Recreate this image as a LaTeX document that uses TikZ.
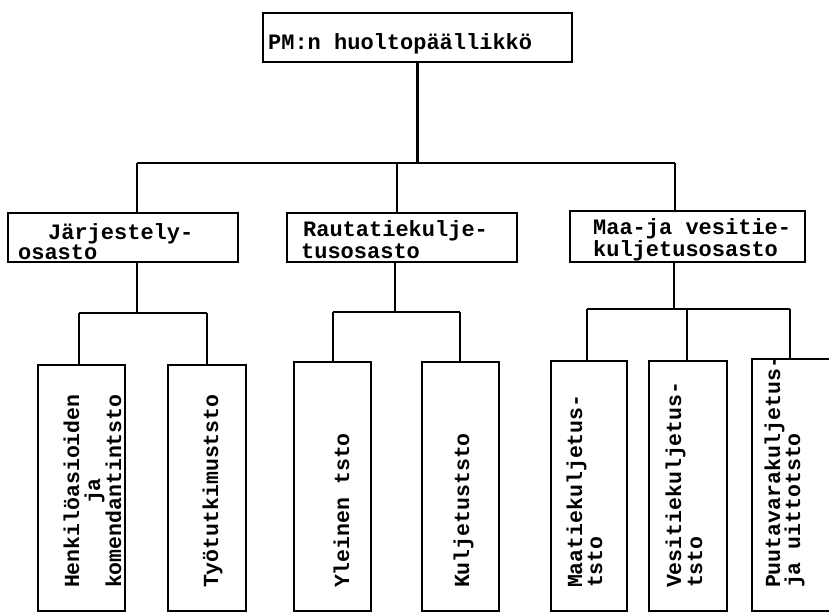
\documentclass[tikz,border=0pt]{standalone}
\usepackage{fontspec}
\newfontfamily\tw{Liberation Mono Bold}
\newcommand\orgbox[5]{\node[box, minimum width={(#4-#2)*1pt}, minimum height={(#5-#3)*1pt}] (#1) at (#2,#3) {};}
\newcommand\lines[2]{\vtop{\baselineskip=#1\lineskiplimit=-100pt #2}}
\begin{document}
\begin{tikzpicture}[x=1pt,y=-1pt, line width=2.2pt,
  box/.style={draw, rectangle, inner sep=0pt, outer sep=0pt, anchor=north west},
  htext/.style={inner sep=0pt, anchor=base west, font=\tw\fontsize{22}{22}\selectfont},
  vtext/.style={inner sep=0pt, anchor=base west, rotate=90, font=\tw\fontsize{21.5}{21.5}\selectfont},
  conn/.style={line width=2.2pt}]
\useasboundingbox[fill=white] (0,0) rectangle (829,614);
% boxes
\orgbox{top}{263}{13}{572}{62}
\orgbox{jarj}{8}{213}{238}{262}
\orgbox{raut}{287}{213}{517}{262}
\orgbox{maa}{570}{211}{805}{262}
\orgbox{henk}{38}{365}{125}{611}
\orgbox{tyo}{168}{365}{246}{611}
\orgbox{yle}{294}{362}{371}{611}
\orgbox{kul}{422}{362}{499}{611}
\orgbox{maat}{551}{361}{627}{611}
\orgbox{vesi}{649}{361}{727}{611}
\orgbox{puu}{752}{359}{845}{611}
% texts
\node[htext] (t0) at (267,49) {PM:n huoltopäällikkö};
\node[htext] (t1) at (17,239) {\lines{20pt}{\hbox{\kern30pt Järjestely-}\hbox{osasto}}};
\node[htext] (t2) at (300,236) {\lines{22pt}{\hbox{\kern2pt Rautatiekulje-}\hbox{tusosasto}}};
\node[htext] (t3) at (592,234) {\lines{22pt}{\hbox{Maa-ja vesitie-}\hbox{kuljetusosasto}}};
\node[vtext] (v1) at (79,589) {\lines{21pt}{\hbox{Henkilöasioiden}\hbox{\kern84pt ja}\hbox{komendantintsto}}};
\node[vtext] (v2) at (218,589) {Työtutkimuststo};
\node[vtext] (v3) at (349,589) {Yleinen tsto};
\node[vtext] (v4) at (469,589) {Kuljetuststo};
\node[vtext] (v5) at (582,589) {\lines{20pt}{\hbox{Maatiekuljetus-}\hbox{tsto}}};
\node[vtext] (v6) at (681,589) {\lines{21pt}{\hbox{Vesitiekuljetus-}\hbox{tsto}}};
\node[vtext] (v7) at (780,589) {\lines{20pt}{\hbox{Puutavarakuljetus-}\hbox{ja uittotsto}}};
% main bus
\coordinate (bL) at (137,163);
\coordinate (bM) at (397,163);
\coordinate (bR) at (675,163);
\draw[conn] (top.south) -- (top.south |- bL);
\draw[conn] (bL) -- (bR);
\draw[conn] (bL) -- (bL |- jarj.north);
\draw[conn] (bM) -- (bM |- raut.north);
\draw[conn] (bR) -- (bR |- maa.north);
% Jarjestely sub
\coordinate (jv) at (137,313);
\coordinate (j1) at (79,313);
\coordinate (j2) at (207,313);
\draw[conn] (jv |- jarj.south) -- (jv);
\draw[conn] (j1) -- (j2);
\draw[conn] (j1) -- (j1 |- henk.north);
\draw[conn] (j2) -- (j2 |- tyo.north);
% Rautatie sub
\coordinate (rv) at (395,312);
\coordinate (r1) at (333,312);
\coordinate (r2) at (460,312);
\draw[conn] (rv |- raut.south) -- (rv);
\draw[conn] (r1) -- (r2);
\draw[conn] (r1) -- (r1 |- yle.north);
\draw[conn] (r2) -- (r2 |- kul.north);
% Maa sub
\coordinate (mv) at (674,309);
\coordinate (m1) at (587,309);
\coordinate (m2) at (687,309);
\coordinate (m3) at (790,309);
\draw[conn] (mv |- maa.south) -- (mv);
\draw[conn] (m1) -- (m3);
\draw[conn] (m1) -- (m1 |- maat.north);
\draw[conn] (m2) -- (m2 |- vesi.north);
\draw[conn] (m3) -- (m3 |- puu.north);
\end{tikzpicture}
\end{document}
